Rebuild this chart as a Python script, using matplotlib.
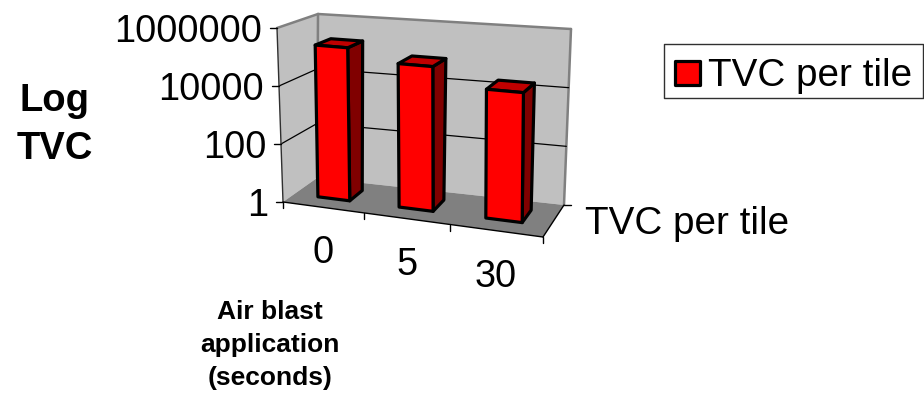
import numpy as np
from matplotlib import pyplot as plt

plt.rcParams['font.family'] = ['Liberation Sans', 'DejaVu Sans']

# data
categories = ['0', '5', '30']
tvc_values = [200000, 80000, 20000]
y_ticks = [1, 100, 10000, 1000000]
y_tick_labels = ['1', '100', '10000', '1000000']
series_name = 'TVC per tile'

# pixel position of the corners of the 3d box: front/back, bottom/top, left/right
corners = {
    (0, 0, 0): (283, 202), (1, 0, 0): (543, 237),
    (0, 1, 0): (317, 178), (1, 1, 0): (564, 205),
    (0, 0, 1): (277, 28), (1, 0, 1): (543, 51),
    (0, 1, 1): (318, 14), (1, 1, 1): (571, 29),
}
persp = 0.905  # categories get a bit narrower to the left


# u = category position 0..3, w = depth 0..1, v = value
def proj(u, w, value):
    a = u / len(categories)
    a = persp * a / (1 + (persp - 1) * a)
    h = np.log10(value) / np.log10(y_ticks[-1])
    px = np.zeros(2)
    for (i, j, k), c in corners.items():
        px = px + np.array(c) * (a if i else 1 - a) * (w if j else 1 - w) * (h if k else 1 - h)
    return px


def face(ax, pts, color, z, ec='none', lw=0.0):
    xs = [p[0] for p in pts]
    ys = [p[1] for p in pts]
    ax.fill(xs, ys, facecolor=color, edgecolor=ec, linewidth=lw, zorder=z, joinstyle='round')


def line(ax, p, q, color='black', lw=1.0, z=3):
    ax.plot([p[0], q[0]], [p[1], q[1]], color=color, lw=lw, zorder=z, solid_capstyle='round')


fig = plt.figure(figsize=(9.24, 3.96), dpi=100)
ax = fig.add_axes([0, 0, 1, 1])
ax.set_xlim(0, 924)
ax.set_ylim(396, 0)
ax.axis('off')

n = len(categories)
lo, hi = y_ticks[0], y_ticks[-1]

# walls and floor
face(ax, [proj(0, 1, lo), proj(n, 1, lo), proj(n, 1, hi), proj(0, 1, hi)], '#C0C0C0', 1)
face(ax, [proj(0, 0, lo), proj(0, 1, lo), proj(0, 1, hi), proj(0, 0, hi)], '#C0C0C0', 1)
face(ax, [proj(0, 0, lo), proj(n, 0, lo), proj(n, 1, lo), proj(0, 1, lo)], '#808080', 2)

# wall borders
line(ax, proj(0, 0, hi), proj(0, 1, hi), '#808080', 1.8, 2)
line(ax, proj(0, 1, hi), proj(n, 1, hi), '#808080', 1.8, 2)
line(ax, proj(n, 1, hi), proj(n, 1, lo), '#808080', 1.8, 2)
line(ax, proj(0, 1, hi), proj(0, 1, lo), '#808080', 1.8, 2)

# grid lines
for t in y_ticks[1:-1]:
    line(ax, proj(0, 0, t), proj(0, 1, t), 'black', 0.9)
    line(ax, proj(0, 1, t), proj(n, 1, t), 'black', 0.9)

# axes and ticks
line(ax, proj(0, 0, lo), proj(0, 0, hi), '#303030', 1.0)
line(ax, proj(0, 0, lo), proj(n, 0, lo), 'black', 1.0)
line(ax, proj(n, 0, lo), proj(n, 1, lo), 'black', 1.0)
for t, lab in zip(y_ticks, y_tick_labels):
    p = proj(0, 0, t)
    line(ax, p, p + np.array([-7, 0]), 'black', 1.0)
    ax.text(p[0] - 15, p[1], lab, fontsize=27.3, ha='right', va='center_baseline', color='black')
for i in range(n + 1):
    p = proj(i, 0, lo)
    line(ax, p, p + np.array([0, 6]), 'black', 1.0)
p = proj(n, 1, lo)
line(ax, p, p + np.array([7, 0]), 'black', 1.0)
ax.text(p[0] + 21, p[1] + 15, series_name, fontsize=27.8, ha='left', va='center_baseline')

# bars
bar_w = 0.4
w0, w1 = 0.34, 0.74
for i, (cat, val) in enumerate(zip(categories, tvc_values)):
    u0 = i + 0.3
    u1 = u0 + bar_w
    z = 5 + i
    face(ax, [proj(u1, w0, lo), proj(u1, w1, lo), proj(u1, w1, val), proj(u1, w0, val)],
         '#800000', z, 'black', 2.3)
    face(ax, [proj(u0, w0, val), proj(u1, w0, val), proj(u1, w1, val), proj(u0, w1, val)],
         '#C00000', z, 'black', 2.3)
    face(ax, [proj(u0, w0, lo), proj(u1, w0, lo), proj(u1, w0, val), proj(u0, w0, val)],
         '#FF0000', z, 'black', 2.3)
    p = proj(i + 0.5, 0, lo)
    ax.text(p[0], p[1] + 42, cat, fontsize=27.3, ha='center', va='center_baseline')

# titles
ax.text(55, 125, 'Log\nTVC', fontsize=27.5, fontweight='bold', ha='center', va='center',
        linespacing=1.42)
ax.text(270, 345, 'Air blast\napplication\n(seconds)', fontsize=19, fontweight='bold',
        ha='center', va='center', linespacing=1.48)

# legend
face(ax, [(664, 44), (923, 44), (923, 98), (664, 98)], 'white', 1, '#303030', 1.0)
face(ax, [(675, 61), (700, 61), (700, 85), (675, 85)], '#FF0000', 2, 'black', 2.3)
ax.text(708, 72, series_name, fontsize=27.8, ha='left', va='center_baseline')

fig.savefig('out.png', dpi=100)
